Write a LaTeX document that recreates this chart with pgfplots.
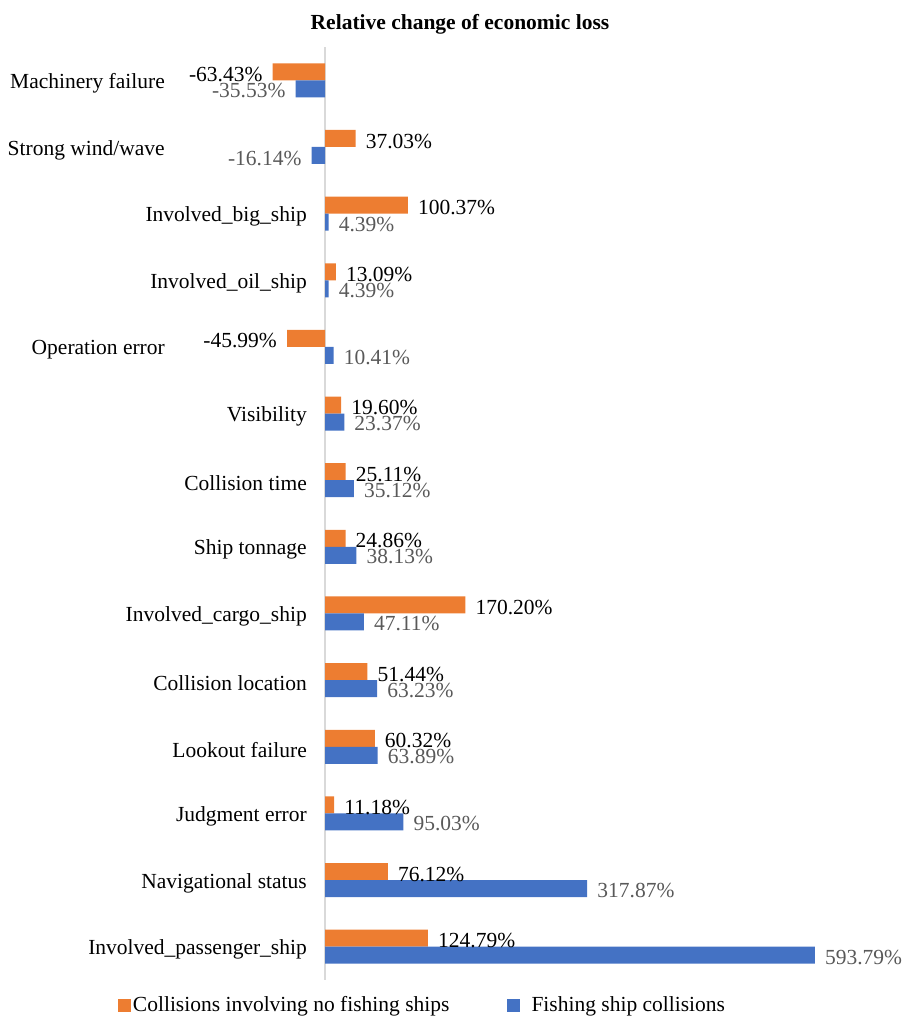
\documentclass[border=0pt]{standalone}
\usepackage{pgfplots}
\usepackage{pgfplotstable}
\pgfplotsset{compat=1.18}
\usepackage{fontspec}
\setmainfont{Liberation Serif}
\definecolor{cOrange}{HTML}{ED7D31}
\definecolor{cBlue}{HTML}{4472C4}
\definecolor{cAxis}{HTML}{D9D9D9}
\definecolor{cLab}{HTML}{595959}
\pgfplotstableread{
val pos ys
-63.43 0 -3
37.03 1 -2.6
100.37 2 -2.6
13.09 3 -2.6
-45.99 4 -2.6
19.60 5 -2.6
25.11 6 -2.6
24.86 7 -2.6
170.20 8 -2.6
51.44 9 -2.6
60.32 10 -2.6
11.18 11 -2.6
76.12 12 -2.6
124.79 13 -2.6
}\orangedata
\pgfplotstableread{
val pos ys
-35.53 0 -1.5
-16.14 1 -2.6
4.39 2 -2
4.39 3 -2
10.41 4 -2.6
23.37 5 -1.5
35.12 6 -1.5
38.13 7 -1.5
47.11 8 -2
63.23 9 -1.5
63.89 10 -1.5
95.03 11 -2
317.87 12 -2
593.79 13 -2
}\bluedata
\begin{document}
\begin{tikzpicture}[font=\fontsize{21.5}{25}\selectfont]
\begin{axis}[
  at={(242.5pt,37pt)}, anchor=south west,
  scale only axis, width=577.5pt, height=933pt,
  xbar, bar width=17pt,
  xmin=-100, xmax=600,
  ymin=-0.5, ymax=13.5, y dir=reverse,
  clip=false,
  axis line style={draw=none},
  major tick length=0pt,
  xtick=\empty,
  extra x ticks={0}, extra x tick labels={},
  extra x tick style={grid=major, major grid style={color=cAxis, line width=1.5pt}},
  ytick={0,...,13},
  yticklabels={Machinery failure\hspace*{142pt},Strong wind/wave\hspace*{142pt},Involved\_big\_ship,Involved\_oil\_ship,Operation error\hspace*{142pt},Visibility,Collision time,Ship tonnage,Involved\_cargo\_ship,Collision location,Lookout failure,Judgment error,Navigational status,Involved\_passenger\_ship},
  yticklabel style={anchor=east, inner sep=0pt, xshift=64.5pt, yshift=-3pt},
  title={\bfseries Relative change of economic loss},
  title style={at={(0.3766,1)}, anchor=base, yshift=12pt, inner sep=0pt},
  visualization depends on={\thisrow{ys} \as \labshift},
  nodes near coords={\pgfmathprintnumber[fixed,fixed zerofill,precision=2,assume math mode=true]{\pgfplotspointmeta}\%},
  nodes near coords style={inner xsep=10pt, inner ysep=0pt, yshift=\labshift pt},
  legend style={at={(0.3117,-0.0268)}, anchor=center, draw=none, fill=none, legend columns=2, inner sep=0pt,
    /tikz/every even column/.append style={column sep=55pt}},
  legend image code/.code={\fill[#1] (0pt,-6.5pt) rectangle (13pt,6.5pt);},
  legend cell align=left,
]
\addplot[fill=cOrange, draw=none, bar shift=8.5pt, nodes near coords style={text=black}] table[x=val, y=pos] {\orangedata};
\addplot[fill=cBlue, draw=none, bar shift=-8.5pt, nodes near coords style={text=cLab}] table[x=val, y=pos] {\bluedata};
\legend{Collisions involving no fishing ships,\hspace*{10pt}Fishing ship collisions}
\end{axis}
\pgfresetboundingbox
\useasboundingbox (0,0) rectangle (907pt,1017pt);
\end{tikzpicture}
\end{document}
